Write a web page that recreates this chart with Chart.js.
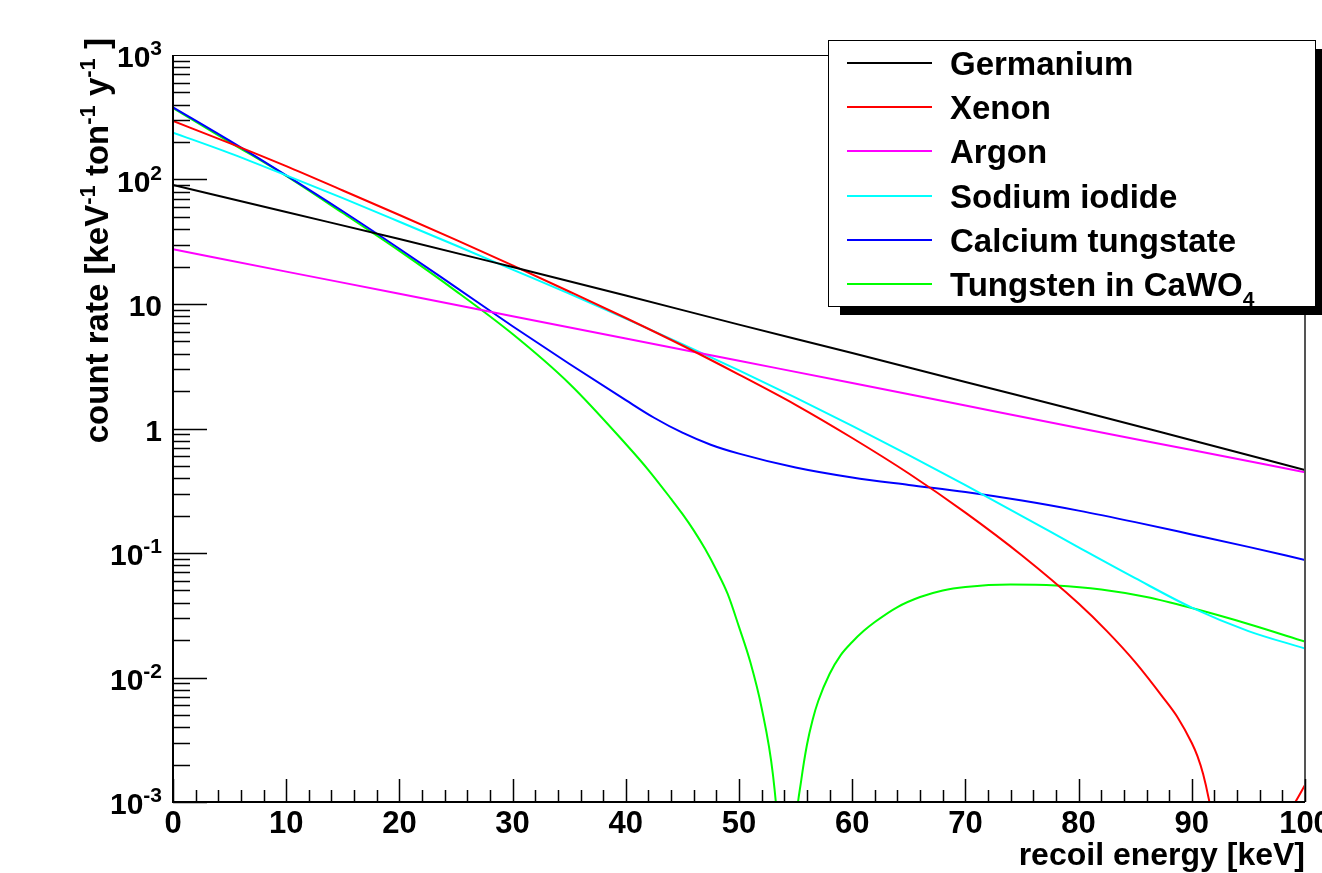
<!DOCTYPE html>
<html>
<head>
<meta charset="utf-8">
<script src="https://cdn.jsdelivr.net/npm/chart.js@4.4.1/dist/chart.umd.min.js"></script>
<style>
  html, body { margin: 0; padding: 0; background: #ffffff; }
  canvas { display: block; }
</style>
</head>
<body>
<canvas id="rate-chart" width="1322" height="873"></canvas>
<script>
'use strict';

// series, in legend order
var seriesNames = ['Germanium', 'Xenon', 'Argon', 'Sodium iodide', 'Calcium tungstate', 'Tungsten in CaWO4'];
var seriesColors = ['#000000', '#ff0000', '#ff00ff', '#00ffff', '#0000ff', '#00ff00'];

// recoil energy [keV] and count rate [keV^-1 ton^-1 y^-1]
var geEnergy = [0, 10, 20, 30, 40, 50, 60, 70, 80, 90, 100];
var geRate = [90.4, 54.8, 33.3, 19.8, 11.7, 6.83, 4.04, 2.36, 1.39, 0.804, 0.464];

var xeEnergy = [0, 5, 10, 15, 20, 25, 30, 35, 40, 45, 50, 55, 60, 65, 70, 75, 80, 82.5, 85, 87.5, 88.75, 90, 90.5, 91, 91.5, 92, 93, 94, 94.5, 95, 96, 97, 98, 99, 100];
var xeRate = [295, 196, 128, 81.6, 51.9, 32.7, 20.4, 12.6, 7.72, 4.64, 2.71, 1.55, 0.839, 0.435, 0.211, 0.0955, 0.0393, 0.0236, 0.0133, 0.00684, 0.00478, 0.00298, 0.00234, 0.00168, 0.00106, 0.000585, 0.00022, 0.000025, 0.0000001, 0.00002, 0.00017, 0.00044, 0.0007, 0.00095, 0.00137];

var arEnergy = [0, 10, 20, 30, 40, 50, 60, 70, 80, 90, 100];
var arRate = [27.5, 18.2, 12.1, 7.98, 5.28, 3.50, 2.32, 1.53, 1.01, 0.672, 0.445];

var naiEnergy = [0, 5, 10, 15, 20, 25, 30, 35, 40, 45, 50, 55, 60, 65, 70, 75, 80, 85, 90, 95, 100];
var naiRate = [238, 163, 108, 70.8, 45.8, 29.5, 18.9, 12.1, 7.63, 4.76, 2.93, 1.77, 1.05, 0.611, 0.351, 0.198, 0.111, 0.0628, 0.0364, 0.0236, 0.0171];

var cawoEnergy = [0, 5, 10, 15, 20, 25, 30, 35, 40, 42.5, 45, 47.5, 50, 55, 60, 65, 70, 75, 80, 85, 90, 95, 100];
var cawoRate = [380, 205, 108, 55.6, 27.8, 13.6, 6.63, 3.31, 1.69, 1.22, 0.925, 0.741, 0.628, 0.486, 0.404, 0.352, 0.309, 0.264, 0.219, 0.177, 0.141, 0.112, 0.0879];

var wEnergy = [0, 5, 10, 15, 20, 25, 30, 35, 40, 42, 44, 45, 46, 47, 48, 49, 50, 51, 52, 53, 53.5, 54, 54.5, 55, 55.5, 56, 56.5, 57, 58, 59, 60, 61, 62, 64, 66, 68, 70, 74, 78, 82, 86, 90, 95, 100];
var wRate = [375, 200, 107, 53.8, 26.7, 12.7, 5.74, 2.30, 0.751, 0.464, 0.272, 0.206, 0.152, 0.108, 0.0730, 0.0469, 0.0255, 0.0133, 0.00569, 0.00165, 0.0005, 0.00004, 0.00009, 0.00064, 0.0015, 0.00287, 0.00456, 0.00647, 0.01067, 0.0152, 0.0193, 0.0236, 0.0279, 0.0368, 0.0443, 0.0500, 0.0533, 0.0558, 0.0548, 0.0509, 0.0443, 0.0361, 0.0269, 0.0194];

// axes
var xTickValues = [0, 10, 20, 30, 40, 50, 60, 70, 80, 90, 100];
var xTickLabels = ['0', '10', '20', '30', '40', '50', '60', '70', '80', '90', '100'];
var yTickValues = [0.001, 0.01, 0.1, 1, 10, 100, 1000];
var yTickLabels = [['10', '-3'], ['10', '-2'], ['10', '-1'], ['1', ''], ['10', ''], ['10', '2'], ['10', '3']];
var xTitle = 'recoil energy [keV]';
var yTitle = [['count rate [keV', false], ['-1', true], [' ton', false], ['-1', true], [' y', false], ['-1', true], [' ]', false]];

var FONT = '"Liberation Sans", Arial, Helvetica, sans-serif';

function toPoints(energy, rate) {
  var pts = [];
  for (var i = 0; i < energy.length; i++) {
    pts.push({x: energy[i], y: rate[i]});
  }
  return pts;
}

function drawParts(ctx, parts, x, y, align) {
  var total = 0;
  parts.forEach(function(p) {
    ctx.font = p.font;
    total += ctx.measureText(p.text).width;
  });
  var cx = x;
  if (align === 'right') cx = x - total;
  if (align === 'center') cx = x - total / 2;
  ctx.textAlign = 'left';
  ctx.textBaseline = 'alphabetic';
  parts.forEach(function(p) {
    ctx.font = p.font;
    ctx.fillText(p.text, cx, y + (p.dy || 0));
    cx += ctx.measureText(p.text).width;
  });
}

var rootFrame = {
  id: 'rootFrame',
  afterDatasetsDraw: function(chart) {
    var ctx = chart.ctx;
    var area = chart.chartArea;
    var xs = chart.scales.x;
    var ys = chart.scales.y;
    ctx.save();

    // frame
    ctx.strokeStyle = '#000000';
    ctx.lineWidth = 1;
    ctx.beginPath();
    ctx.moveTo(area.left, area.top + 0.5);
    ctx.lineTo(area.right, area.top + 0.5);
    ctx.stroke();
    ctx.strokeStyle = '#555555';
    ctx.lineWidth = 2;
    ctx.beginPath();
    ctx.moveTo(area.right, area.top);
    ctx.lineTo(area.right, area.bottom);
    ctx.stroke();
    ctx.strokeStyle = '#000000';
    ctx.lineWidth = 2;
    ctx.beginPath();
    ctx.moveTo(area.left, area.top);
    ctx.lineTo(area.left, area.bottom);
    ctx.lineTo(area.right, area.bottom);
    ctx.stroke();

    // x ticks, pointing into the frame
    ctx.lineWidth = 1.5;
    ctx.beginPath();
    for (var v = 0; v <= 100; v += 2) {
      var px = Math.round(xs.getPixelForValue(v)) + 0.5;
      var len = (v % 10 === 0) ? 23 : 12;
      ctx.moveTo(px, area.bottom);
      ctx.lineTo(px, area.bottom - len);
    }
    ctx.stroke();

    // y ticks, log decades with minor marks
    ctx.beginPath();
    for (var e = -3; e <= 2; e++) {
      for (var k = 1; k <= 9; k++) {
        var py = Math.round(ys.getPixelForValue(k * Math.pow(10, e))) + 0.5;
        var ylen = (k === 1) ? 34 : 17;
        ctx.moveTo(area.left, py);
        ctx.lineTo(area.left + ylen, py);
      }
    }
    ctx.stroke();

    ctx.fillStyle = '#000000';

    // x tick labels
    ctx.font = 'bold 31px ' + FONT;
    ctx.textAlign = 'center';
    ctx.textBaseline = 'alphabetic';
    xTickValues.forEach(function(val, i) {
      ctx.fillText(xTickLabels[i], xs.getPixelForValue(val), area.bottom + 31);
    });

    // y tick labels with exponents
    yTickValues.forEach(function(val, i) {
      var py = ys.getPixelForValue(val);
      var lab = yTickLabels[i];
      var parts = [{text: lab[0], font: 'bold 30px ' + FONT}];
      if (lab[1]) parts.push({text: lab[1], font: 'bold 21px ' + FONT, dy: -12});
      drawParts(ctx, parts, area.left - 11, py + 12, 'right');
    });

    // axis titles
    drawParts(ctx, [{text: xTitle, font: 'bold 32px ' + FONT}], area.right, area.bottom + 63, 'right');

    ctx.save();
    ctx.translate(108, 38);
    ctx.rotate(-Math.PI / 2);
    var tParts = yTitle.map(function(p) {
      return p[1] ? {text: p[0], font: 'bold 22px ' + FONT, dy: -13} : {text: p[0], font: 'bold 33px ' + FONT};
    });
    drawParts(ctx, tParts, 0, 0, 'right');
    ctx.restore();

    // legend box with shadow
    var bx = 828, by = 40, bw = 487, bh = 266;
    ctx.fillStyle = '#000000';
    ctx.fillRect(bx + 12, by + 9, bw, bh);
    ctx.fillStyle = '#ffffff';
    ctx.fillRect(bx, by, bw, bh);
    ctx.strokeStyle = '#000000';
    ctx.lineWidth = 1;
    ctx.strokeRect(bx + 0.5, by + 0.5, bw, bh);

    var rowY = [63, 107, 151, 196, 240, 284];
    chart.data.datasets.forEach(function(ds, i) {
      var ly = rowY[i];
      ctx.strokeStyle = ds.borderColor;
      ctx.lineWidth = 2;
      ctx.beginPath();
      ctx.moveTo(847, ly);
      ctx.lineTo(932, ly);
      ctx.stroke();
      ctx.fillStyle = '#000000';
      var m = ds.label.match(/^(.*O)(4)$/);
      var parts;
      if (m) {
        parts = [{text: m[1], font: 'bold 33px ' + FONT}, {text: m[2], font: 'bold 21px ' + FONT, dy: 10}];
      } else {
        parts = [{text: ds.label, font: 'bold 33px ' + FONT}];
      }
      drawParts(ctx, parts, 950, rowY[i] + 12, 'left');
    });

    ctx.restore();
  }
};

var energies = [geEnergy, xeEnergy, arEnergy, naiEnergy, cawoEnergy, wEnergy];
var rates = [geRate, xeRate, arRate, naiRate, cawoRate, wRate];

var datasets = seriesNames.map(function(name, i) {
  return {
    label: name,
    data: toPoints(energies[i], rates[i]),
    borderColor: seriesColors[i],
    backgroundColor: seriesColors[i],
    borderWidth: 2,
    pointRadius: 0,
    fill: false,
    cubicInterpolationMode: 'monotone'
  };
});

new Chart(document.getElementById('rate-chart'), {
  type: 'line',
  data: {datasets: datasets},
  options: {
    responsive: false,
    animation: false,
    devicePixelRatio: 1,
    layout: {padding: {left: 173, right: 17, top: 55, bottom: 71}},
    plugins: {
      legend: {display: false},
      tooltip: {enabled: false}
    },
    scales: {
      x: {type: 'linear', min: 0, max: 100, display: false},
      y: {type: 'logarithmic', min: 0.001, max: 1000, display: false}
    }
  },
  plugins: [rootFrame]
});
</script>
</body>
</html>
